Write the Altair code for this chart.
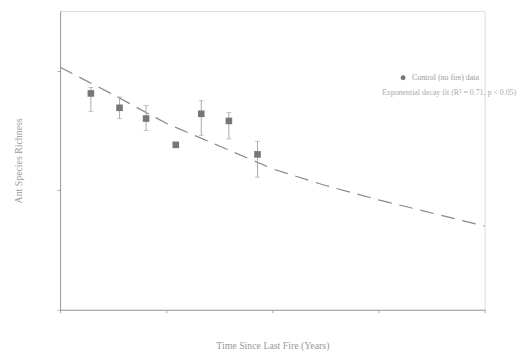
import altair as alt
import pandas as pd

years = [2.9, 5.6, 8.1, 10.9, 13.3, 15.9, 18.6]
richness = [18.1, 16.9, 16.0, 13.8, 16.4, 15.8, 13.0]
err_lo = [16.6, 16.0, 15.0, 13.6, 14.6, 14.3, 11.1]
err_hi = [18.6, 17.8, 17.1, 14.0, 17.5, 16.5, 14.1]

# Fitted curve
fit_x = [0, 5, 10, 15, 20, 25, 30, 35, 40]
fit_y = [20.3, 18.0, 15.6, 13.7, 11.8, 10.4, 9.2, 8.1, 7.0]

legend_labels = ["Control (no fire) data", "Exponential decay fit (R² = 0.71, p < 0.05)"]

pts = pd.DataFrame({"x": years, "y": richness, "lo": err_lo, "hi": err_hi})
fit = pd.DataFrame({"x": fit_x, "y": fit_y})
leg = pd.DataFrame({"label": legend_labels})

FONT = "Liberation Serif"
xs = alt.Scale(domain=[0, 40], nice=False)
ys = alt.Scale(domain=[0, 25], nice=False)

xaxis = alt.Axis(title="Time Since Last Fire (Years)", values=[0, 10, 20, 30, 40], labels=False,
                 grid=False, domainColor="#999", tickColor="#aaa", tickSize=3,
                 titleColor="#999", titleFont=FONT, titleFontSize=10, titleFontWeight="normal",
                 titlePadding=28)
yaxis = alt.Axis(title="Ant Species Richness", values=[0, 10, 20], labels=False,
                 grid=False, domainColor="#999", tickColor="#aaa", tickSize=3,
                 titleColor="#999", titleFont=FONT, titleFontSize=10, titleFontWeight="normal",
                 titlePadding=34)

line = alt.Chart(fit).mark_line(color="#888", strokeDash=[14, 8], strokeWidth=1.2).encode(
    x=alt.X("x:Q", scale=xs, axis=xaxis),
    y=alt.Y("y:Q", scale=ys, axis=yaxis),
)

bars = alt.Chart(pts).mark_rule(color="#aaa").encode(
    x=alt.X("x:Q", scale=xs, axis=xaxis),
    y=alt.Y("lo:Q", scale=ys, axis=yaxis),
    y2="hi:Q",
)
caps_hi = alt.Chart(pts).mark_tick(color="#aaa", size=5, thickness=1, orient="horizontal").encode(
    x=alt.X("x:Q", scale=xs, axis=xaxis),
    y=alt.Y("hi:Q", scale=ys, axis=yaxis),
)
caps_lo = alt.Chart(pts).mark_tick(color="#aaa", size=5, thickness=1, orient="horizontal").encode(
    x=alt.X("x:Q", scale=xs, axis=xaxis),
    y=alt.Y("lo:Q", scale=ys, axis=yaxis),
)

points = alt.Chart(pts).mark_point(shape="square", filled=True, color="#777", size=45, opacity=1).encode(
    x=alt.X("x:Q", scale=xs, axis=xaxis),
    y=alt.Y("y:Q", scale=ys, axis=yaxis),
)

leg_pt = alt.Chart(leg.iloc[[0]]).mark_point(filled=True, color="#777", size=25, opacity=1).encode(
    x=alt.value(349), y=alt.value(68)
)
leg_t1 = alt.Chart(leg.iloc[[0]]).mark_text(align="left", baseline="middle", font=FONT, fontSize=8,
                                             fill="#999").encode(
    x=alt.value(358), y=alt.value(68), text=alt.value(legend_labels[0])
)
leg_t2 = alt.Chart(leg.iloc[[1]]).mark_text(align="right", baseline="middle", font=FONT, fontSize=8,
                                             fill="#aaa").encode(
    x=alt.value(464), y=alt.value(83), text=alt.value(legend_labels[1])
)

chart = alt.layer(line, bars, caps_hi, caps_lo, points, leg_pt, leg_t1, leg_t2).properties(
    width=432, height=304,
    autosize=alt.AutoSizeParams(type="none"),
    padding={"left": 53, "top": 0, "right": 40, "bottom": 45},
).configure_view(stroke=None).configure(background="white")

chart.save("out.html", embed_options={"renderer": "svg", "actions": False})
